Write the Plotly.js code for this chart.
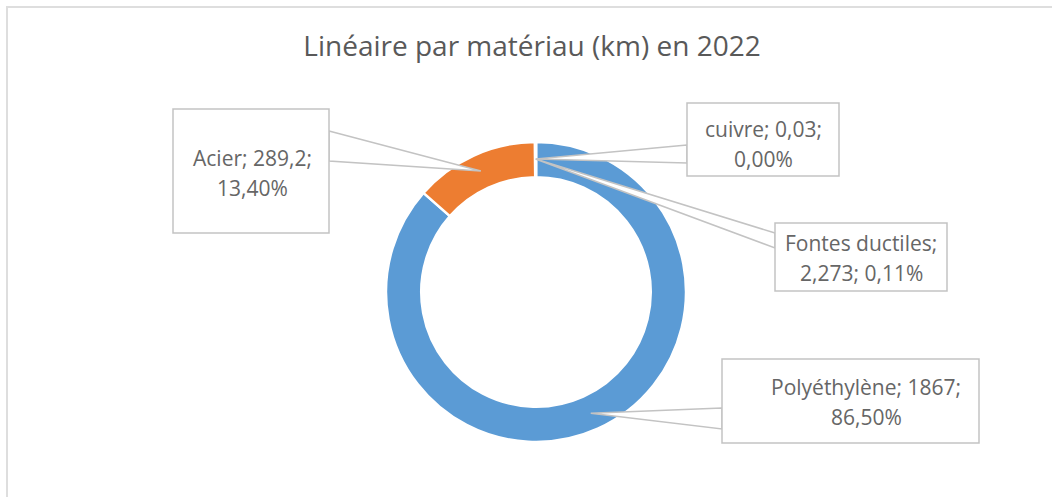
<!DOCTYPE html>
<html>
<head>
<meta charset="utf-8">
<script src="https://cdn.plot.ly/plotly-3.0.1.min.js"></script>
<style>html,body{margin:0;padding:0;background:#fff;}#chart{width:1052px;height:497px;}</style>
</head>
<body>
<div id="chart"></div>
<script>
// ---- data ----
const materials = ["Polyéthylène", "Acier", "Fontes ductiles", "cuivre"];
const lengthsKm = [1867, 289.2, 2.273, 0.03];
const percentLabels = [86.50, 13.40, 0.11, 0.00];
const sliceColors = ["#5B9BD5", "#ED7D31", "#A5A5A5", "#FFC000"];
const chartTitle = "Linéaire par matériau (km) en 2022";

// ---- layout helpers (pixels) ----
const W = 1052, H = 497;
const cx = 536, cy = 292, R = 150, hole = 0.765;
const tipR = 133;
const lineGap = 30;
// callout boxes: [x0, y0, x1, y1], base of the leader wedge [xa, ya, xb, yb], text centre [x, y], break position
const boxes = [
  {box: [722, 359, 979, 443], base: [722, 408, 722, 429], txt: [866, 402], brk: "value"},
  {box: [173, 109, 329, 233], base: [329, 131, 329, 161], txt: [252, 173], brk: "value"},
  {box: [775, 223, 947, 291], base: [775, 233, 775, 248], txt: [861, 258], brk: "name"},
  {box: [687, 103, 839, 176], base: [687, 145, 687, 163], txt: [763, 144], brk: "value"}
];

const px = x => x / W;
const py = y => 1 - y / H;
const fr = v => String(v).replace(".", ",");
const pct = p => p.toFixed(2).replace(".", ",") + "%";

const total = lengthsKm.reduce((a, b) => a + b, 0);
let cum = 0;
const shapes = [];
const annotations = [];

// outer chart border (top and left edges)
shapes.push({type: "line", xref: "paper", yref: "paper", x0: px(6), x1: 1, y0: py(7), y1: py(7), line: {color: "#dedede", width: 2}});
shapes.push({type: "line", xref: "paper", yref: "paper", x0: px(7), x1: px(7), y0: py(6), y1: 0, line: {color: "#dedede", width: 2}});

const wedgeShapes = [], boxShapes = [];
lengthsKm.forEach((v, i) => {
  const mid = (cum + v / 2) / total * 2 * Math.PI;
  cum += v;
  const tx = cx + tipR * Math.sin(mid);
  const ty = cy - tipR * Math.cos(mid);
  const b = boxes[i];
  wedgeShapes.push({
    type: "path", xref: "paper", yref: "paper",
    path: `M ${px(b.base[0])},${py(b.base[1])} L ${px(tx)},${py(ty)} L ${px(b.base[2])},${py(b.base[3])} Z`,
    fillcolor: "#ffffff", line: {color: "#c3c3c3", width: 1.5}
  });
  boxShapes.push({
    type: "rect", xref: "paper", yref: "paper",
    x0: px(b.box[0]), x1: px(b.box[2]), y0: py(b.box[1]), y1: py(b.box[3]),
    fillcolor: "#ffffff", line: {color: "#c3c3c3", width: 1.5}
  });
  const lines = b.brk === "name"
    ? [`${materials[i]};`, `${fr(v)}; ${pct(percentLabels[i])}`]
    : [`${materials[i]}; ${fr(v)};`, `${pct(percentLabels[i])}`];
  lines.forEach((t, k) => {
    annotations.push({
      xref: "paper", yref: "paper", x: px(b.txt[0]), y: py(b.txt[1] + (k - 0.5) * lineGap),
      xanchor: "center", yanchor: "middle", showarrow: false, align: "center",
      text: t, font: {family: "Open Sans", size: 21, color: "#666666"}
    });
  });
});

const data = [{
  type: "pie",
  labels: materials,
  values: lengthsKm,
  hole: hole,
  sort: false,
  direction: "clockwise",
  rotation: 0,
  textinfo: "none",
  hoverinfo: "label+value+percent",
  marker: {colors: sliceColors, line: {color: "#ffffff", width: 2.5}},
  domain: {x: [px(cx - R), px(cx + R)], y: [py(cy + R), py(cy - R)]},
  showlegend: false
}];

const layout = {
  width: W, height: H,
  margin: {l: 0, r: 0, t: 0, b: 0},
  paper_bgcolor: "#ffffff",
  plot_bgcolor: "#ffffff",
  showlegend: false,
  title: {
    text: chartTitle,
    font: {family: "Open Sans", size: 28, color: "#595959"},
    x: px(532), xref: "paper", xanchor: "center",
    y: py(46), yref: "paper", yanchor: "middle"
  },
  shapes: shapes.concat(wedgeShapes, boxShapes),
  annotations: annotations
};

Plotly.newPlot("chart", data, layout, {displayModeBar: false, staticPlot: true});
</script>
</body>
</html>
